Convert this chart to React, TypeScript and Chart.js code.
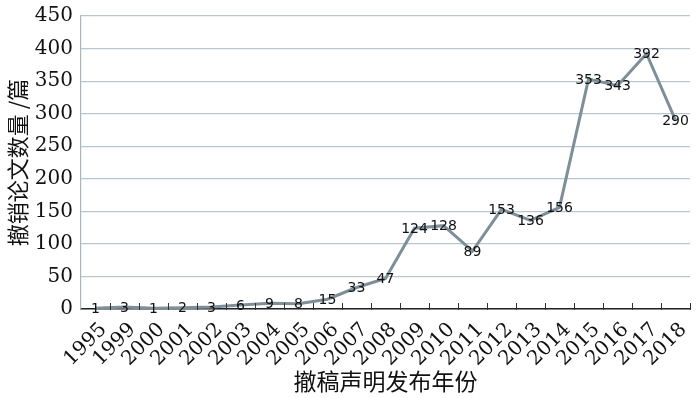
import React, { useEffect, useRef } from "react";
import { Chart, registerables } from "chart.js";

Chart.register(...registerables);

const years = ["1995", "1999", "2000", "2001", "2002", "2003", "2004", "2005", "2006", "2007", "2008", "2009", "2010", "2011", "2012", "2013", "2014", "2015", "2016", "2017", "2018"];
const counts = [1, 3, 1, 2, 3, 6, 9, 8, 15, 33, 47, 124, 128, 89, 153, 136, 156, 353, 343, 392, 290];
const yTitle = "撤销论文数量 /篇";
const xTitle = "撤稿声明发布年份";

const SERIF = "'DejaVu Serif', 'Liberation Serif', serif";
const SANS = "'DejaVu Sans', sans-serif";
const CJK = "'Noto Sans CJK SC', sans-serif";

const labelPlugin = {
  id: "valueLabels",
  afterDatasetsDraw(chart: any) {
    const ctx = chart.ctx;
    const meta = chart.getDatasetMeta(0);
    ctx.save();
    ctx.font = `14px ${SANS}`;
    ctx.fillStyle = "#111";
    ctx.textAlign = "center";
    ctx.textBaseline = "middle";
    meta.data.forEach((pt: any, i: number) => {
      ctx.fillText(String(counts[i]), pt.x, pt.y + 1);
    });
    ctx.restore();
  },
};

const tickPlugin = {
  id: "innerTicks",
  afterDraw(chart: any) {
    const x = chart.scales.x;
    const ctx = chart.ctx;
    const n = years.length;
    const w = (x.right - x.left) / n;
    ctx.save();
    ctx.strokeStyle = "#333";
    ctx.lineWidth = 1;
    for (let i = 1; i <= n; i++) {
      const px = Math.round(x.left + i * w) + 0.5;
      ctx.beginPath();
      ctx.moveTo(px, x.top + 1);
      ctx.lineTo(px, x.top - 6);
      ctx.stroke();
    }
    ctx.restore();
  },
};

export default function App() {
  const ref = useRef<HTMLCanvasElement>(null);
  useEffect(() => {
    document.body.style.margin = "0";
    const chart = new Chart(ref.current!, {
      type: "line",
      data: {
        labels: years,
        datasets: [
          {
            data: counts,
            borderColor: "#7d9099",
            borderWidth: 3,
            pointRadius: 0,
            tension: 0,
            fill: false,
          },
        ],
      },
      options: {
        animation: false,
        responsive: false,
        maintainAspectRatio: false,
        layout: { padding: { left: 0, right: 10, top: 16, bottom: 0 } },
        plugins: { legend: { display: false }, tooltip: { enabled: false } },
        scales: {
          x: {
            offset: true,
            grid: { display: false, offset: true },
            border: { display: true, color: "#222", width: 1.5 },
            ticks: {
              minRotation: 45,
              maxRotation: 45,
              autoSkip: false,
              padding: 1,
              labelOffset: 8,
              color: "#111",
              font: { family: SERIF, size: 20 },
            },
            title: {
              display: true,
              text: xTitle,
              color: "#111",
              font: { family: CJK, size: 23 },
              padding: { top: 0, bottom: 3 },
            },
            afterFit(scale: any) {
              scale.height = 89;
              scale.paddingLeft = 0;
              scale.paddingRight = 0;
            },
          },
          y: {
            min: 0,
            max: 450,
            ticks: {
              stepSize: 50,
              color: "#111",
              padding: 8,
              font: { family: SERIF, size: 20 },
            },
            grid: { color: "#b8c6cd", lineWidth: 1.2, drawTicks: false },
            border: { display: true, color: "#a9b6bc", width: 1.2 },
            title: {
              display: true,
              text: yTitle,
              color: "#111",
              font: { family: CJK, size: 22 },
              padding: { top: 4, bottom: 0 },
            },
            afterFit(scale: any) {
              scale.width = 81;
              scale.paddingTop = 0;
              scale.paddingBottom = 0;
            },
          },
        },
      },
      plugins: [labelPlugin, tickPlugin],
    });
    return () => chart.destroy();
  }, []);
  return (
    <div style={{ width: 700, height: 398 }}>
      <canvas ref={ref} width={700} height={398} style={{ display: "block" }} />
    </div>
  );
}
